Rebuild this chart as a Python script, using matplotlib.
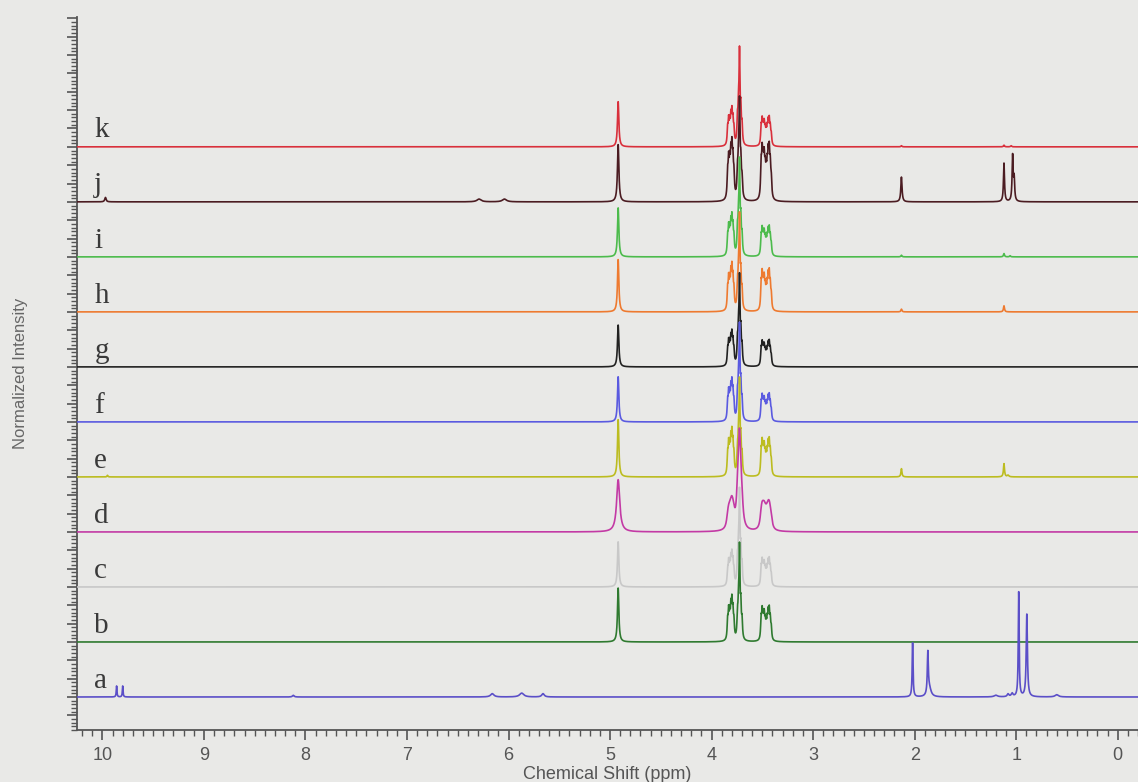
import matplotlib.pyplot as plt
import numpy as np
from matplotlib.ticker import MultipleLocator

plt.rcParams["font.family"] = ["Liberation Sans", "DejaVu Sans"]

# stacked 1H NMR spectra, a (bottom) .. k (top)
labels = ["a", "b", "c", "d", "e", "f", "g", "h", "i", "j", "k"]
colors = ["#5b4fc8", "#2f7a30", "#c8c8c8", "#c33aa5", "#bcbc20", "#5a5ae0",
          "#222222", "#ee7a30", "#4cbb4c", "#4b1c22", "#d9303c"]

# multiplet pattern shared by b..k (ppm, relative intensity)
singlet_ppm = 4.92
left_ppm = [3.842, 3.832, 3.821, 3.810, 3.800, 3.790, 3.780]
left_rel = [0.55, 0.8, 0.7, 0.85, 1.0, 0.75, 0.5]
center_ppm = [3.745, 3.735, 3.725, 3.712, 3.700]
center_rel = [0.25, 0.35, 1.0, 0.35, 0.2]
right_ppm = [3.512, 3.502, 3.492, 3.482, 3.472, 3.462, 3.452, 3.442, 3.432, 3.422, 3.412]
right_rel = [0.8, 1.0, 0.75, 0.85, 0.6, 0.5, 0.65, 0.9, 1.0, 0.7, 0.45]

# peak heights read per spectrum, order b..k
singlet_h = [0.98, 0.82, 0.95, 1.04, 0.82, 0.76, 0.95, 0.89, 1.04, 0.82]
left_h = [0.85, 0.67, 0.58, 0.90, 0.80, 0.67, 0.90, 0.80, 1.16, 0.73]
center_h = [1.80, 1.80, 1.85, 1.80, 1.80, 1.70, 1.80, 1.80, 1.90, 1.82]
right_h = [0.67, 0.55, 0.58, 0.73, 0.53, 0.50, 0.80, 0.58, 1.10, 0.57]
line_hwhm = [0.0055, 0.0055, 0.013, 0.0055, 0.0055, 0.0055, 0.0055, 0.0055, 0.006, 0.0055]

# other peaks: (ppm, height, hwhm)
peaks_a = [(9.86, 0.20, 0.004), (9.80, 0.20, 0.004), (8.12, 0.03, 0.01),
           (6.16, 0.06, 0.02), (5.87, 0.07, 0.025), (5.66, 0.06, 0.015),
           (2.02, 0.98, 0.005), (1.87, 0.75, 0.006), (1.855, 0.15, 0.02),
           (1.20, 0.03, 0.02), (1.08, 0.05, 0.01), (1.04, 0.06, 0.01),
           (0.975, 1.90, 0.005), (0.895, 1.50, 0.007), (0.60, 0.04, 0.02)]
peaks_e = [(9.95, 0.03, 0.005), (2.13, 0.15, 0.006), (1.12, 0.24, 0.006), (1.08, 0.03, 0.01)]
peaks_h = [(2.13, 0.05, 0.006), (1.12, 0.11, 0.006)]
peaks_i = [(2.13, 0.03, 0.006), (1.12, 0.06, 0.006), (1.06, 0.02, 0.006)]
peaks_j = [(9.97, 0.08, 0.008), (6.29, 0.05, 0.025), (6.04, 0.05, 0.025),
           (2.13, 0.45, 0.007), (1.12, 0.70, 0.006), (1.035, 0.82, 0.006), (1.02, 0.40, 0.006)]
peaks_k = [(2.13, 0.02, 0.006), (1.12, 0.03, 0.006), (1.05, 0.02, 0.006)]
extra_peaks = {"a": peaks_a, "e": peaks_e, "h": peaks_h, "i": peaks_i,
               "j": peaks_j, "k": peaks_k}

ppm = np.arange(10.25, -0.2, -0.001)


def lorentz(pos, height, hwhm):
    return height * hwhm ** 2 / ((ppm - pos) ** 2 + hwhm ** 2)


def group(positions, rel, top, hwhm):
    y = sum(lorentz(p, r, hwhm) for p, r in zip(positions, rel))
    return y / y.max() * top


def spectrum(idx):
    lab = labels[idx]
    y = np.zeros_like(ppm)
    if idx > 0:
        k = idx - 1
        w = line_hwhm[k]
        y += lorentz(singlet_ppm, singlet_h[k], max(w * 1.4, 0.008))
        y += group(left_ppm, left_rel, left_h[k], w)
        y += group(center_ppm, center_rel, center_h[k], w)
        y += group(right_ppm, right_rel, right_h[k], w)
    for p, h, w in extra_peaks.get(lab, []):
        y += lorentz(p, h, w)
    return y


bg = "#e9e9e7"
fig = plt.figure(figsize=(11.38, 7.82), dpi=100)
fig.patch.set_facecolor(bg)
ax = fig.add_axes([77 / 1138, 52 / 782, 1061 / 1138, 713 / 782])
ax.set_facecolor(bg)

for idx in range(len(labels) - 1, -1, -1):
    ax.plot(ppm, spectrum(idx) + idx, color=colors[idx], lw=1.2, zorder=3 + len(labels) - idx)
    ax.text(10.08, idx + 0.17, labels[idx], family="Liberation Serif", fontsize=21,
            color="#3a3a3a", ha="left", va="baseline")

ax.set_xlim(10.25, -0.2)
ax.set_ylim(-0.6, 12.36)
ax.xaxis.set_major_locator(MultipleLocator(1))
ax.xaxis.set_minor_locator(MultipleLocator(0.1))
ax.yaxis.set_major_locator(MultipleLocator(1 / 3))
ax.yaxis.set_minor_locator(MultipleLocator(1 / 15))
ax.tick_params(axis="both", which="major", direction="out", length=7, width=1.2,
               color="#555555", labelsize=13, labelcolor="#555555", pad=5)
ax.tick_params(axis="both", which="minor", direction="out", length=4, width=1.0, color="#555555")
ax.tick_params(axis="y", labelleft=False)
for side in ["top", "right"]:
    ax.spines[side].set_visible(False)
for side in ["left", "bottom"]:
    ax.spines[side].set_color("#555555")
    ax.spines[side].set_linewidth(1.3)

ax.set_xlabel("Chemical Shift (ppm)", fontsize=13, color="#555555", labelpad=2)
ax.set_ylabel("Normalized Intensity", fontsize=12, color="#666666")
ax.yaxis.set_label_coords(-0.046, 0.5)

fig.savefig("out.png", dpi=100, facecolor=bg)
